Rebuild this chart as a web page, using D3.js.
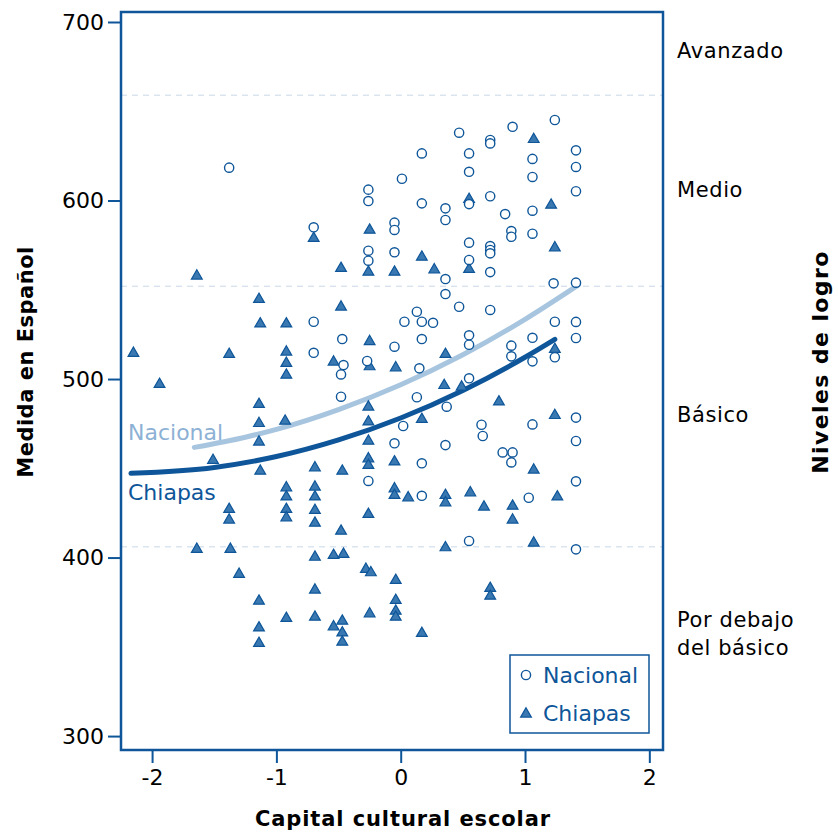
<!DOCTYPE html>
<html><head><meta charset="utf-8">
<script src="https://cdn.jsdelivr.net/npm/d3@7"></script>
<style>body{margin:0;background:#fff;} svg{display:block;font-family:"DejaVu Sans",Verdana,sans-serif;}</style>
</head><body>
<svg id="chart" width="838" height="834"></svg>
<script>
// Nacional points [capital cultural, medida]
const nacionalX = [-1.38,-0.70,-0.70,-0.70,-0.47,-0.46,-0.48,-0.48,-0.26,-0.26,-0.26,-0.26,-0.27,-0.26,0.01,-0.05,-0.05,-0.05,-0.05,0.03,0.02,-0.05,0.17,0.17,0.13,0.17,0.26,0.17,0.15,0.13,0.17,0.17,0.36,0.36,0.36,0.36,0.37,0.36,0.47,0.55,0.55,0.55,0.55,0.55,0.47,0.55,0.55,0.55,0.55,0.72,0.72,0.72,0.72,0.72,0.72,0.72,0.72,0.65,0.66,0.90,0.89,0.89,0.84,0.89,0.89,0.82,0.90,0.89,1.06,1.06,1.06,1.06,1.06,1.06,1.06,1.03,1.24,1.23,1.24,1.24,1.41,1.41,1.41,1.41,1.41,1.41,1.41,1.41,1.41,1.41];
const nacionalY = [618.4,585.0,532.1,514.7,522.4,507.8,502.6,490.1,606.1,599.7,571.9,566.3,510.1,442.9,612.2,587.6,583.5,571.0,518.1,532.1,473.7,464.0,626.4,598.4,537.7,532.1,531.5,522.4,506.0,489.8,452.8,434.6,595.6,589.1,556.0,547.6,484.5,463.0,638.0,626.4,616.1,598.0,576.4,566.7,540.5,524.5,519.2,500.4,409.3,633.9,632.0,602.4,574.5,572.3,570.4,559.9,538.7,474.4,468.1,641.3,582.9,579.7,592.4,518.7,512.7,458.9,458.9,453.3,623.3,613.2,594.3,581.4,523.1,509.9,474.6,433.5,645.1,553.6,532.1,512.2,628.1,618.8,605.2,554.0,532.0,523.0,478.4,465.3,442.7,404.6];
// Chiapas points
const chiapasX = [-2.15,-1.94,-1.64,-1.64,-1.51,-1.38,-1.38,-1.38,-1.37,-1.30,-1.14,-1.13,-1.14,-1.14,-1.14,-1.13,-1.14,-1.14,-1.14,-0.92,-0.92,-0.92,-0.92,-0.93,-0.92,-0.92,-0.92,-0.92,-0.92,-0.70,-0.69,-0.69,-0.69,-0.69,-0.69,-0.69,-0.69,-0.69,-0.48,-0.48,-0.54,-0.47,-0.48,-0.54,-0.46,-0.47,-0.54,-0.47,-0.47,-0.25,-0.26,-0.25,-0.25,-0.26,-0.26,-0.26,-0.26,-0.26,-0.26,-0.28,-0.24,-0.25,-0.05,-0.04,-0.05,-0.05,-0.05,0.06,-0.04,-0.04,-0.04,-0.04,0.17,0.27,0.17,0.17,0.36,0.35,0.36,0.36,0.36,0.55,0.55,0.49,0.56,0.72,0.72,0.79,0.67,0.90,0.90,1.07,1.07,1.07,1.21,1.24,1.24,1.24,1.26];
const chiapasY = [515.0,497.6,558.3,405.2,455.0,514.4,427.6,421.6,405.2,391.2,545.2,531.5,486.4,475.7,465.3,449.0,376.2,361.2,352.5,531.5,515.7,509.4,502.8,477.0,439.7,434.6,427.6,422.9,366.5,579.4,450.9,440.1,434.6,427.0,419.9,400.8,382.4,367.2,562.6,540.9,510.1,449.0,415.4,401.8,402.4,365.0,361.8,358.4,353.2,584.0,560.5,521.6,507.5,484.9,476.6,465.8,455.9,452.2,424.8,394.0,392.1,369.1,560.5,506.9,454.2,439.1,435.4,434.1,387.8,376.6,370.6,367.2,568.9,561.8,478.0,358.1,514.4,497.0,435.4,431.3,406.1,601.2,562.0,496.1,436.9,383.3,379.0,487.8,428.9,429.4,421.6,634.8,449.6,408.7,598.0,574.1,517.2,480.2,434.6];
// Fitted curves
const nacionalCurveX = [-1.66,-1.25,-1.0,-0.5,0,0.5,1.0,1.43];
const nacionalCurveY = [461.7,467.4,471.8,482.9,496.8,513.6,533.4,552.7];
const chiapasCurveX = [-2.17,-1.5,-1.0,-0.5,0,0.5,1.0,1.24];
const chiapasCurveY = [447.2,450.5,456.6,465.9,478.2,493.6,512.2,522.2];
// Achievement level cut points and labels
const cutPoints = [406, 552, 659];
const xTicks = [-2,-1,0,1,2];
const yTicks = [300,400,500,600,700];
const levelLabels = [
  {lines:["Avanzado"], y:680},
  {lines:["Medio"], y:602},
  {lines:["Básico"], y:476},
  {lines:["Por debajo","del básico"], y:361}
];

const dark = "#0e5699", triFill = "#3a78b1", lightLine = "#a8c5df", lightText = "#8db1d5";
const svg = d3.select("#chart");
const L = 121, R = 663, T = 12, B = 750;
const x = d3.scaleLinear().domain([-2.25, 2.11]).range([L, R]);
const y = d3.scaleLinear().domain([292.2, 705.6]).range([B, T]);

// cut lines
svg.append("g").selectAll("line").data(cutPoints).join("line")
  .attr("x1", L).attr("x2", R).attr("y1", d => y(d)).attr("y2", d => y(d))
  .attr("stroke", "#c9d8e8").attr("stroke-width", 1).attr("stroke-dasharray", "6,5");

// axes
const yAxis = svg.append("g").attr("transform", `translate(${L},0)`)
  .call(d3.axisLeft(y).tickValues(yTicks).tickSize(13).tickPadding(4).tickFormat(d3.format("d")));
const xAxis = svg.append("g").attr("transform", `translate(0,${B})`)
  .call(d3.axisBottom(x).tickValues(xTicks).tickSize(13).tickPadding(6).tickFormat(d => d < 0 ? "-" + Math.abs(d) : d));
[yAxis, xAxis].forEach(g => {
  g.select(".domain").remove();
  g.selectAll(".tick line").attr("stroke", dark).attr("stroke-width", 2);
  g.selectAll(".tick text").attr("fill", "#000").attr("font-size", 22).attr("font-family", "DejaVu Sans, sans-serif");
});

// curves
const line = d3.line().curve(d3.curveMonotoneX).x(d => x(d[0])).y(d => y(d[1]));
svg.append("path").datum(nacionalCurveX.map((v,i)=>[v,nacionalCurveY[i]]))
  .attr("d", line).attr("fill","none").attr("stroke", lightLine).attr("stroke-width", 5).attr("stroke-linecap","round");
svg.append("path").datum(chiapasCurveX.map((v,i)=>[v,chiapasCurveY[i]]))
  .attr("d", line).attr("fill","none").attr("stroke", dark).attr("stroke-width", 5).attr("stroke-linecap","round");

// points
const tri = d3.symbol().type(d3.symbolTriangle).size(50);
svg.append("g").selectAll("path").data(chiapasX.map((v,i)=>[v,chiapasY[i]])).join("path")
  .attr("d", tri).attr("transform", d => `translate(${x(d[0])},${y(d[1])+1})`)
  .attr("fill", triFill).attr("stroke", dark).attr("stroke-width", 1.2);
svg.append("g").selectAll("circle").data(nacionalX.map((v,i)=>[v,nacionalY[i]])).join("circle")
  .attr("cx", d => x(d[0])).attr("cy", d => y(d[1])).attr("r", 4.6)
  .attr("fill", "#fff").attr("stroke", dark).attr("stroke-width", 1.4);

// curve labels
svg.append("text").attr("x", 128).attr("y", 440).attr("fill", lightText).attr("font-size", 22).text("Nacional");
svg.append("text").attr("x", 128).attr("y", 500).attr("fill", dark).attr("font-size", 22).text("Chiapas");

// frame
svg.append("rect").attr("x", L).attr("y", T).attr("width", R-L).attr("height", B-T)
  .attr("fill","none").attr("stroke", dark).attr("stroke-width", 2.5);

// legend
const lg = svg.append("g");
lg.append("rect").attr("x", 510).attr("y", 655).attr("width", 139).attr("height", 78)
  .attr("fill","#fff").attr("stroke", dark).attr("stroke-width", 1.5);
lg.append("circle").attr("cx", 526).attr("cy", 675).attr("r", 4.6).attr("fill","#fff").attr("stroke", dark).attr("stroke-width", 1.4);
lg.append("path").attr("d", tri).attr("transform","translate(526,714)").attr("fill", triFill).attr("stroke", dark).attr("stroke-width",1.2);
lg.append("text").attr("x", 543).attr("y", 683).attr("fill", dark).attr("font-size", 22).text("Nacional");
lg.append("text").attr("x", 543).attr("y", 721).attr("fill", dark).attr("font-size", 22).text("Chiapas");

// level labels on right
levelLabels.forEach(l => {
  l.lines.forEach((t, i) => {
    svg.append("text").attr("x", 677).attr("y", y(l.y) + i*28).attr("font-size", 21).attr("letter-spacing", 0.6).attr("fill","#000").text(t);
  });
});

// axis titles
svg.append("text").attr("x", 403).attr("y", 826).attr("text-anchor","middle").attr("font-size", 21).attr("letter-spacing", 0.9).attr("font-weight","bold").text("Capital cultural escolar");
svg.append("text").attr("transform","translate(33,362) rotate(-90)").attr("text-anchor","middle").attr("font-size", 21).attr("letter-spacing", 0.5).attr("font-weight","bold").text("Medida en Español");
svg.append("text").attr("transform","translate(828,362) rotate(-90)").attr("text-anchor","middle").attr("font-size", 22).attr("letter-spacing", 1.4).attr("font-weight","bold").text("Niveles de logro");
</script>
</body></html>
